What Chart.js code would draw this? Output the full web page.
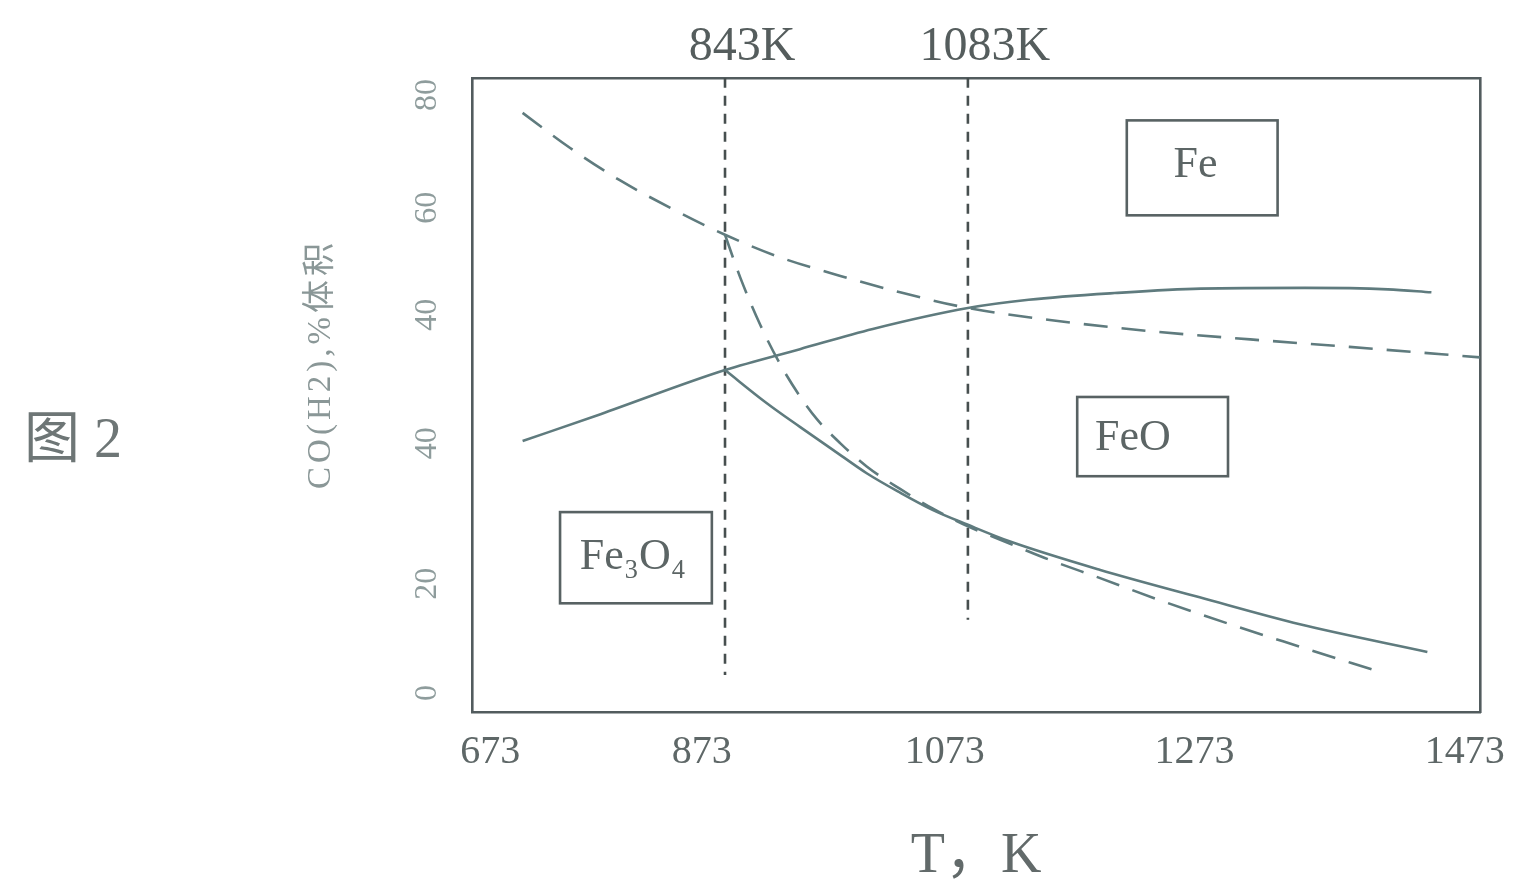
<!DOCTYPE html>
<html>
<head>
<meta charset="utf-8">
<script src="https://cdn.jsdelivr.net/npm/chart.js@4.4.1/dist/chart.umd.min.js"></script>
<style>
  html, body { margin: 0; padding: 0; background: #ffffff; }
  #wrap { width: 1514px; height: 885px; position: relative; }
</style>
</head>
<body>
<div id="wrap"><canvas id="chart" width="1514" height="885"></canvas></div>
<script>
// ---------------- data (temperature in K, gas content in vol.%) ----------------
// Solid curve: Fe3O4/Fe and FeO/Fe boundary (rising)
const solidRiseT   = [643, 720, 843, 917, 989, 1083, 1143, 1228, 1313, 1416, 1498, 1541];
const solidRisePct = [33.7, 37.3, 43.2, 46.0, 48.7, 51.5, 52.6, 53.5, 54.1, 54.2, 54.0, 53.6];

// Solid curve: Fe3O4/FeO boundary (falling)
const solidFallT   = [843, 884, 917, 950, 983, 1016, 1048, 1083, 1124, 1213, 1312, 1411, 1537];
const solidFallPct = [43.2, 38.8, 35.6, 32.5, 29.4, 26.8, 24.5, 22.5, 20.3, 16.5, 12.8, 9.2, 5.5];

// Dashed curve: upper boundary (falling slowly)
const dashUpperT   = [643, 690, 739, 789, 843, 897, 957, 1016, 1083, 1164, 1263, 1362, 1460, 1589];
const dashUpperPct = [77.6, 72.9, 68.6, 64.9, 61.3, 58.3, 55.8, 53.6, 51.5, 49.9, 48.4, 47.3, 46.3, 44.9];

// Dashed curve: lower boundary (steep fall from 843K)
const dashLowerT   = [843, 858, 878, 897, 917, 934, 957, 983, 1016, 1048, 1083, 1115, 1164, 1213, 1273, 1342, 1411, 1488];
const dashLowerPct = [61.3, 55.6, 49.2, 44.1, 39.7, 36.6, 33.4, 30.3, 27.3, 24.7, 22.3, 20.5, 17.8, 15.4, 12.4, 9.2, 6.2, 2.9];

// Vertical marker lines (843K, 1083K)
const markerT         = [843, 1083];
const markerLabels    = ['843K', '1083K'];
const markerTopPct    = [82.3, 82.3];
const markerBottomPct = [2.4, 9.8];

// Axis tick labels as printed in the figure (the printed labels are not
// spaced at their nominal values, so each label keeps the position it has there)
const xTickValues = [611, 820, 1060, 1307, 1574];
const xTickLabels = ['673', '873', '1073', '1273', '1473'];
const yTickValues = [0, 14.6, 33.4, 50.6, 64.9, 80];
const yTickLabels = ['0', '20', '40', '40', '60', '80'];

// Phase region labels
const regionNames = ['Fe', 'FeO', 'Fe₃O₄'];

// ---------------- presentation ----------------
const X_MIN = 593, X_MAX = 1589, Y_MIN = -2.54, Y_MAX = 82.27;
const SERIF = '"Liberation Serif", "Times New Roman", "Noto Sans CJK SC", serif';
const CURVE = '#5f7b7e';
const FRAME = '#525c5e';
const VLINE = '#474f4f';

// region boxes in data coordinates (box corners and text anchor)
const regionBoxes = [
  { t0: 1240, t1: 1389, p0: 76.6, p1: 63.9, tt: 1308, tp: 70.6 },
  { t0: 1191, t1: 1340, p0: 39.6, p1: 29.0, tt: 1246, tp: 34.0 },
  { t0: 680,  t1: 830,  p0: 24.2, p1: 12.0, tt: 752,  tp: 18.2 }
];

const pts = (xs, ys) => xs.map((x, i) => ({ x: x, y: ys[i] }));

const curve = (label, xs, ys, dashed) => ({
  label: label,
  data: pts(xs, ys),
  borderColor: CURVE,
  borderWidth: 2.6,
  borderDash: dashed ? [24, 14] : [],
  cubicInterpolationMode: 'monotone',
  pointRadius: 0,
  fill: false,
  order: 1
});

const markerSets = markerT.map((t, i) => ({
  label: markerLabels[i],
  data: [{ x: t, y: markerTopPct[i] }, { x: t, y: markerBottomPct[i] }],
  borderColor: VLINE,
  borderWidth: 2.6,
  borderDash: [10, 8],
  tension: 0,
  pointRadius: 0,
  fill: false,
  order: 2
}));

const annotationPlugin = {
  id: 'phaseAnnotations',
  afterDatasetsDraw(chart) {
    const { ctx } = chart;
    const xs = chart.scales.x, ys = chart.scales.y;
    ctx.save();
    regionBoxes.forEach((b, i) => {
      const X0 = xs.getPixelForValue(b.t0), X1 = xs.getPixelForValue(b.t1);
      const Y0 = ys.getPixelForValue(b.p0), Y1 = ys.getPixelForValue(b.p1);
      ctx.strokeStyle = '#586263';
      ctx.lineWidth = 2.6;
      ctx.setLineDash([]);
      ctx.strokeRect(X0, Y0, X1 - X0, Y1 - Y0);
      ctx.fillStyle = '#5c6565';
      ctx.font = '44px ' + SERIF;
      ctx.textAlign = 'center';
      ctx.textBaseline = 'middle';
      ctx.fillText(regionNames[i], xs.getPixelForValue(b.tt), ys.getPixelForValue(b.tp));
    });
    ctx.restore();
  },
  afterDraw(chart) {
    const { ctx } = chart;
    ctx.save();
    // y-axis title (rotated)
    ctx.translate(321, 364);
    ctx.rotate(-Math.PI / 2);
    ctx.fillStyle = '#8a9797';
    ctx.font = '33px ' + SERIF;
    try { ctx.letterSpacing = '4px'; } catch (e) {}
    ctx.textAlign = 'center';
    ctx.textBaseline = 'middle';
    ctx.fillText('CO(H2),%体积', 0, 0);
    ctx.restore();
    // figure number
    ctx.save();
    ctx.fillStyle = '#6e7676';
    ctx.font = '56px ' + SERIF;
    ctx.textAlign = 'left';
    ctx.textBaseline = 'middle';
    ctx.fillText('图 2', 24, 442);
    ctx.restore();
  }
};

const noSidePadding = s => { s.paddingLeft = 0; s.paddingRight = 0; };

new Chart(document.getElementById('chart'), {
  type: 'line',
  data: {
    datasets: [
      curve('Fe/FeO (solid)', solidRiseT, solidRisePct, false),
      curve('Fe3O4/FeO (solid)', solidFallT, solidFallPct, false),
      curve('upper (dashed)', dashUpperT, dashUpperPct, true),
      curve('lower (dashed)', dashLowerT, dashLowerPct, true)
    ].concat(markerSets)
  },
  options: {
    responsive: false,
    animation: false,
    layout: { padding: 0 },
    plugins: { legend: { display: false }, tooltip: { enabled: false } },
    scales: {
      x: {
        type: 'linear', position: 'bottom', min: X_MIN, max: X_MAX, bounds: 'data',
        afterFit: s => { s.height = 173; noSidePadding(s); },
        afterBuildTicks: s => { s.ticks = xTickValues.map(v => ({ value: v })); },
        grid: { display: false },
        border: { display: true, color: FRAME, width: 2.6 },
        ticks: {
          autoSkip: false, minRotation: 0, maxRotation: 0, padding: 8,
          color: '#5e6767', font: { family: SERIF, size: 40 },
          callback: (v, i) => xTickLabels[i]
        },
        title: {
          display: true, text: 'T，K', color: '#626a6a',
          font: { family: SERIF, size: 56, lineHeight: 1 }, padding: 0
        }
      },
      xTop: {
        type: 'linear', axis: 'x', position: 'top', min: X_MIN, max: X_MAX, bounds: 'data',
        afterFit: s => { s.height = 78; noSidePadding(s); },
        afterBuildTicks: s => { s.ticks = markerT.map(v => ({ value: v })); },
        grid: { display: false },
        border: { display: true, color: FRAME, width: 2.6 },
        ticks: {
          autoSkip: false, minRotation: 0, maxRotation: 0, padding: -6, labelOffset: 17,
          color: '#555d5d', font: { family: SERIF, size: 48 },
          callback: (v, i) => markerLabels[i]
        }
      },
      y: {
        type: 'linear', position: 'left', min: Y_MIN, max: Y_MAX, bounds: 'data',
        afterFit: s => { s.width = 472; },
        afterBuildTicks: s => { s.ticks = yTickValues.map(v => ({ value: v })); },
        grid: { display: false },
        border: { display: true, color: FRAME, width: 2.6 },
        ticks: {
          autoSkip: false, minRotation: 90, maxRotation: 90, crossAlign: 'center', padding: 20,
          color: '#8e9c9c', font: { family: SERIF, size: 32 },
          callback: (v, i) => yTickLabels[i]
        }
      },
      yRight: {
        type: 'linear', axis: 'y', position: 'right', min: Y_MIN, max: Y_MAX, bounds: 'data',
        afterFit: s => { s.width = 34; },
        grid: { display: false },
        border: { display: true, color: FRAME, width: 2.6 },
        ticks: { display: false }
      }
    }
  },
  plugins: [annotationPlugin]
});
</script>
</body>
</html>
